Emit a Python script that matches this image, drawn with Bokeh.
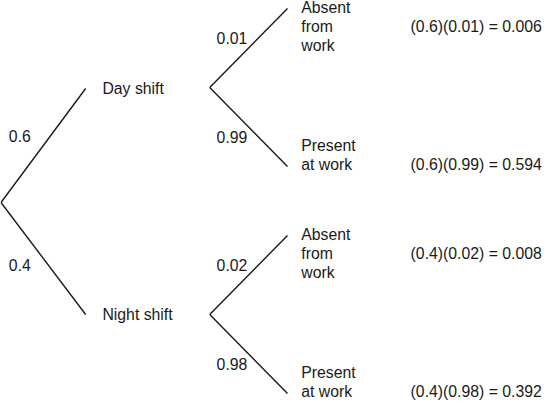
from bokeh.plotting import figure
from bokeh.models import Range1d, ColumnDataSource
from bokeh.core.properties import value
from bokeh.embed import file_html
from bokeh.resources import INLINE

# ---- data ----
shifts = ["Day shift", "Night shift"]
shift_probs = [0.6, 0.4]
outcomes = [["Absent", "from", "work"], ["Present", "at work"]]
outcome_probs = [[0.01, 0.99], [0.02, 0.98]]

# ---- layout (reference-pixel coordinates, y downward) ----
W, H = 543, 402
FONT = value("Liberation Sans")
FS = "15.8px"
INK = "#1a1a1a"
LH = 19

root = (7, 210)
shift_y = [95, 322]
shift_line_end_x = 93
shift_text_x = 110
node_x = 219
leaf_x = 298
leaf_dy = [-79, 79]
root_label_x = 15
root_label_dy = [-67, 62]
branch_label_x = 226
branch_label_dy = [-50, 49]
outcome_x = 312
outcome_first_dy = [-80, 58]
product_x = 423

p = figure(width=W, height=H, output_backend="svg", toolbar_location=None,
           x_range=Range1d(6.5, 558), y_range=Range1d(8 + H, 8),
           min_border=0, outline_line_color=None)
p.axis.visible = False
p.grid.visible = False
p.background_fill_color = "white"
p.border_fill_color = "white"

seg = dict(x0=[], y0=[], x1=[], y1=[])
txt = dict(x=[], y=[], t=[])

def add_text(x, y, t):
    txt["x"].append(x); txt["y"].append(y); txt["t"].append(t)

for i, (s, sp) in enumerate(zip(shifts, shift_probs)):
    sy = shift_y[i]
    seg["x0"].append(root[0]); seg["y0"].append(root[1])
    seg["x1"].append(shift_line_end_x); seg["y1"].append(sy + (1 if i == 0 else 0))
    add_text(shift_text_x, sy + (1 if i == 0 else 0), s)
    add_text(root_label_x, root[1] + root_label_dy[i], f"{sp:g}")
    for j, (lines, op) in enumerate(zip(outcomes, outcome_probs[i])):
        ly = sy + leaf_dy[j]
        seg["x0"].append(node_x); seg["y0"].append(sy)
        seg["x1"].append(leaf_x); seg["y1"].append(ly)
        add_text(branch_label_x, sy + branch_label_dy[j], f"{op:g}")
        first = sy + outcome_first_dy[j]
        for k, ln in enumerate(lines):
            add_text(outcome_x, first + k * LH, ln)
        prod_y = first + (1 if len(lines) == 3 else len(lines) - 1) * LH
        prod = round(sp * op, 6)
        add_text(product_x, prod_y, f"({sp:g})({op:g}) = {prod:.3f}")

p.segment(x0="x0", y0="y0", x1="x1", y1="y1", source=ColumnDataSource(seg),
          line_color=INK, line_width=1.4)
p.text(x="x", y="y", text="t", source=ColumnDataSource(txt),
       text_font=FONT, text_font_size=FS, text_color=INK,
       text_align="left", text_baseline="middle")

open("out.html", "w").write(file_html(p, INLINE))
